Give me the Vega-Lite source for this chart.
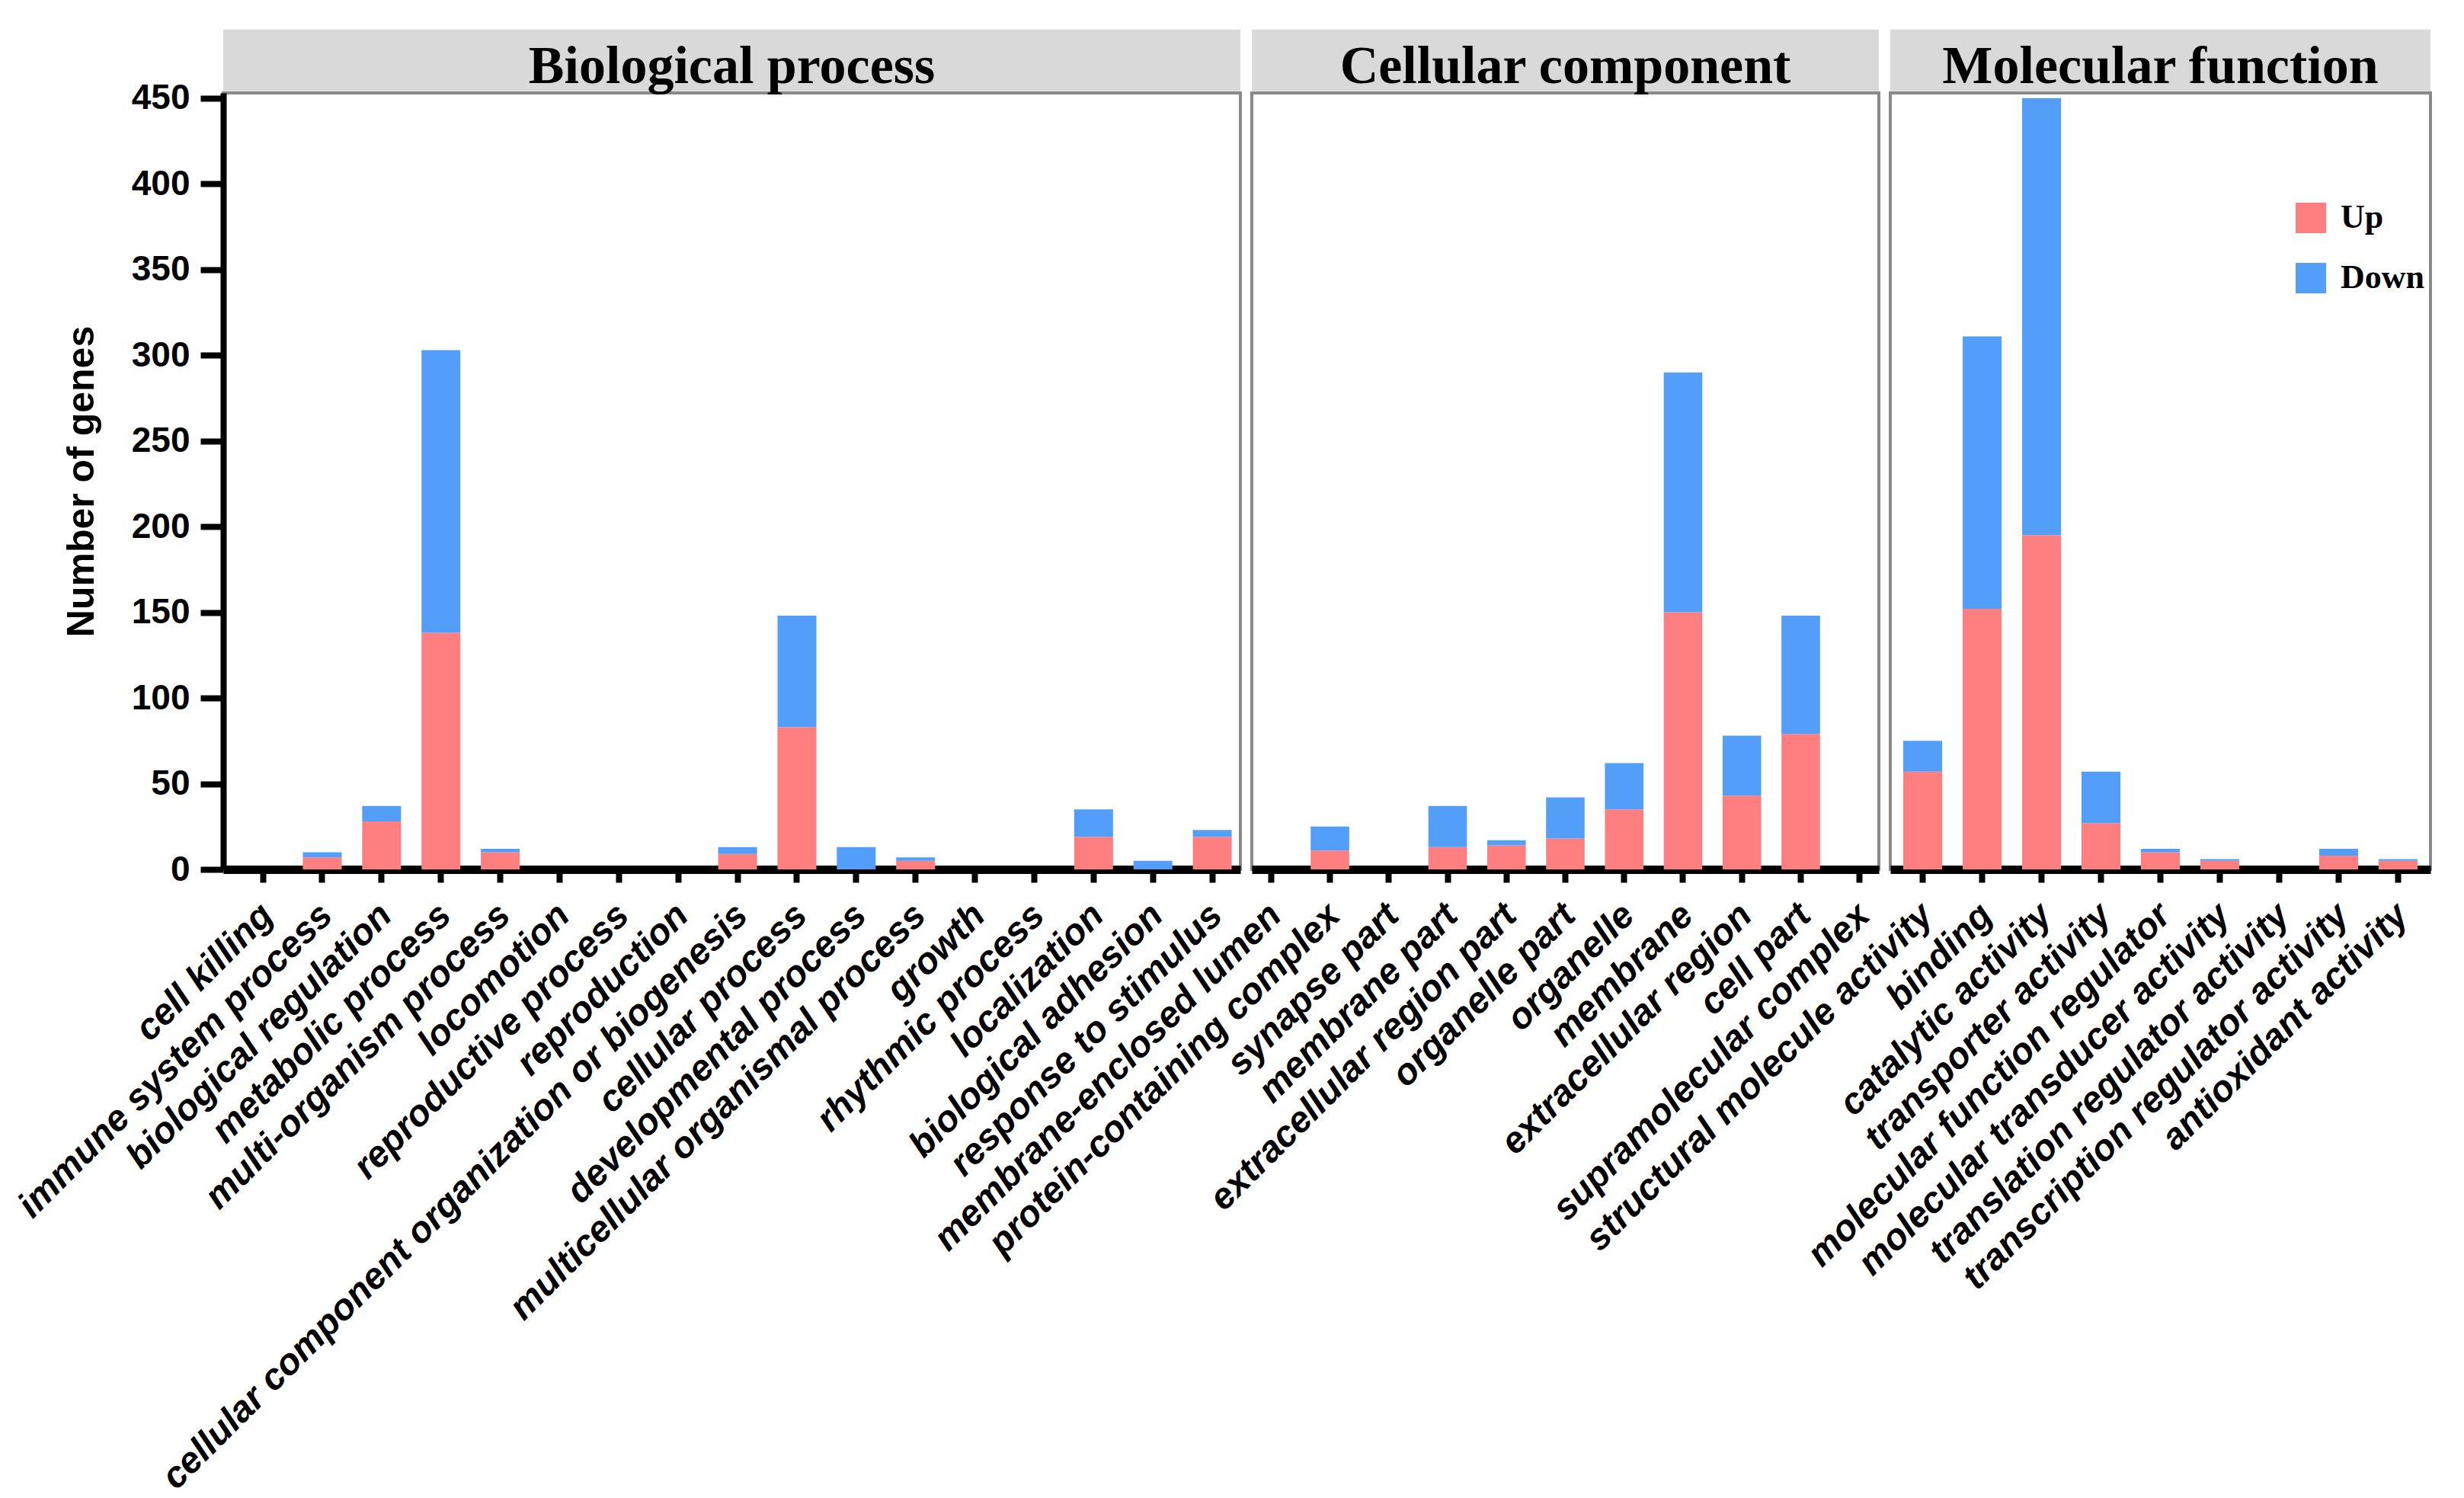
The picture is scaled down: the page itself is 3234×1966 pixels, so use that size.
{
  "$schema": "https://vega.github.io/schema/vega-lite/v6.json",
  "autosize": {"type": "pad"},
  "padding": {"left": 13, "top": 36, "right": 5, "bottom": 5},
  "background": "white",
  "datasets": {
    "go": [
      {"ontology": "Biological process", "term": "cell killing", "direction": "Up", "count": 0},
      {"ontology": "Biological process", "term": "cell killing", "direction": "Down", "count": 0},
      {"ontology": "Biological process", "term": "immune system process", "direction": "Up", "count": 7},
      {"ontology": "Biological process", "term": "immune system process", "direction": "Down", "count": 3},
      {"ontology": "Biological process", "term": "biological regulation", "direction": "Up", "count": 28},
      {"ontology": "Biological process", "term": "biological regulation", "direction": "Down", "count": 9},
      {"ontology": "Biological process", "term": "metabolic process", "direction": "Up", "count": 138},
      {"ontology": "Biological process", "term": "metabolic process", "direction": "Down", "count": 165},
      {"ontology": "Biological process", "term": "multi-organism process", "direction": "Up", "count": 10},
      {"ontology": "Biological process", "term": "multi-organism process", "direction": "Down", "count": 2},
      {"ontology": "Biological process", "term": "locomotion", "direction": "Up", "count": 0},
      {"ontology": "Biological process", "term": "locomotion", "direction": "Down", "count": 0},
      {"ontology": "Biological process", "term": "reproductive process", "direction": "Up", "count": 0},
      {"ontology": "Biological process", "term": "reproductive process", "direction": "Down", "count": 0},
      {"ontology": "Biological process", "term": "reproduction", "direction": "Up", "count": 0},
      {"ontology": "Biological process", "term": "reproduction", "direction": "Down", "count": 0},
      {"ontology": "Biological process", "term": "cellular component organization or biogenesis", "direction": "Up", "count": 9},
      {"ontology": "Biological process", "term": "cellular component organization or biogenesis", "direction": "Down", "count": 4},
      {"ontology": "Biological process", "term": "cellular process", "direction": "Up", "count": 83},
      {"ontology": "Biological process", "term": "cellular process", "direction": "Down", "count": 65},
      {"ontology": "Biological process", "term": "developmental process", "direction": "Up", "count": 0},
      {"ontology": "Biological process", "term": "developmental process", "direction": "Down", "count": 13},
      {"ontology": "Biological process", "term": "multicellular organismal process", "direction": "Up", "count": 5},
      {"ontology": "Biological process", "term": "multicellular organismal process", "direction": "Down", "count": 2},
      {"ontology": "Biological process", "term": "growth", "direction": "Up", "count": 0},
      {"ontology": "Biological process", "term": "growth", "direction": "Down", "count": 0},
      {"ontology": "Biological process", "term": "rhythmic process", "direction": "Up", "count": 0},
      {"ontology": "Biological process", "term": "rhythmic process", "direction": "Down", "count": 0},
      {"ontology": "Biological process", "term": "localization", "direction": "Up", "count": 19},
      {"ontology": "Biological process", "term": "localization", "direction": "Down", "count": 16},
      {"ontology": "Biological process", "term": "biological adhesion", "direction": "Up", "count": 0},
      {"ontology": "Biological process", "term": "biological adhesion", "direction": "Down", "count": 5},
      {"ontology": "Biological process", "term": "response to stimulus", "direction": "Up", "count": 19},
      {"ontology": "Biological process", "term": "response to stimulus", "direction": "Down", "count": 4},
      {"ontology": "Cellular component", "term": "membrane-enclosed lumen", "direction": "Up", "count": 0},
      {"ontology": "Cellular component", "term": "membrane-enclosed lumen", "direction": "Down", "count": 0},
      {"ontology": "Cellular component", "term": "protein-containing complex", "direction": "Up", "count": 11},
      {"ontology": "Cellular component", "term": "protein-containing complex", "direction": "Down", "count": 14},
      {"ontology": "Cellular component", "term": "synapse part", "direction": "Up", "count": 0},
      {"ontology": "Cellular component", "term": "synapse part", "direction": "Down", "count": 0},
      {"ontology": "Cellular component", "term": "membrane part", "direction": "Up", "count": 13},
      {"ontology": "Cellular component", "term": "membrane part", "direction": "Down", "count": 24},
      {"ontology": "Cellular component", "term": "extracellular region part", "direction": "Up", "count": 14},
      {"ontology": "Cellular component", "term": "extracellular region part", "direction": "Down", "count": 3},
      {"ontology": "Cellular component", "term": "organelle part", "direction": "Up", "count": 18},
      {"ontology": "Cellular component", "term": "organelle part", "direction": "Down", "count": 24},
      {"ontology": "Cellular component", "term": "organelle", "direction": "Up", "count": 35},
      {"ontology": "Cellular component", "term": "organelle", "direction": "Down", "count": 27},
      {"ontology": "Cellular component", "term": "membrane", "direction": "Up", "count": 150},
      {"ontology": "Cellular component", "term": "membrane", "direction": "Down", "count": 140},
      {"ontology": "Cellular component", "term": "extracellular region", "direction": "Up", "count": 43},
      {"ontology": "Cellular component", "term": "extracellular region", "direction": "Down", "count": 35},
      {"ontology": "Cellular component", "term": "cell part", "direction": "Up", "count": 79},
      {"ontology": "Cellular component", "term": "cell part", "direction": "Down", "count": 69},
      {"ontology": "Cellular component", "term": "supramolecular complex", "direction": "Up", "count": 0},
      {"ontology": "Cellular component", "term": "supramolecular complex", "direction": "Down", "count": 0},
      {"ontology": "Molecular function", "term": "structural molecule activity", "direction": "Up", "count": 57},
      {"ontology": "Molecular function", "term": "structural molecule activity", "direction": "Down", "count": 18},
      {"ontology": "Molecular function", "term": "binding", "direction": "Up", "count": 152},
      {"ontology": "Molecular function", "term": "binding", "direction": "Down", "count": 159},
      {"ontology": "Molecular function", "term": "catalytic activity", "direction": "Up", "count": 195},
      {"ontology": "Molecular function", "term": "catalytic activity", "direction": "Down", "count": 255},
      {"ontology": "Molecular function", "term": "transporter activity", "direction": "Up", "count": 27},
      {"ontology": "Molecular function", "term": "transporter activity", "direction": "Down", "count": 30},
      {"ontology": "Molecular function", "term": "molecular function regulator", "direction": "Up", "count": 10},
      {"ontology": "Molecular function", "term": "molecular function regulator", "direction": "Down", "count": 2},
      {"ontology": "Molecular function", "term": "molecular transducer activity", "direction": "Up", "count": 5},
      {"ontology": "Molecular function", "term": "molecular transducer activity", "direction": "Down", "count": 1},
      {"ontology": "Molecular function", "term": "translation regulator activity", "direction": "Up", "count": 0},
      {"ontology": "Molecular function", "term": "translation regulator activity", "direction": "Down", "count": 0},
      {"ontology": "Molecular function", "term": "transcription regulator activity", "direction": "Up", "count": 8},
      {"ontology": "Molecular function", "term": "transcription regulator activity", "direction": "Down", "count": 4},
      {"ontology": "Molecular function", "term": "antioxidant activity", "direction": "Up", "count": 5},
      {"ontology": "Molecular function", "term": "antioxidant activity", "direction": "Down", "count": 1}
    ]
  },
  "data": {"name": "go"},
  "spacing": 15,
  "bounds": "flush",
  "align": "none",
  "resolve": {"legend": {"color": "independent"}},
  "config": {
    "view": {"stroke": "#8a8a8a", "strokeWidth": 4},
    "axis": {
      "grid": false,
      "domainColor": "#000000",
      "tickColor": "#000000",
      "labelColor": "#000000",
      "titleColor": "#000000",
      "labelFont": "Liberation Sans",
      "titleFont": "Liberation Sans"
    },
    "axisX": {
      "domainWidth": 11,
      "tickWidth": 8,
      "tickSize": 17,
      "labelAngle": -45,
      "labelFontSize": 48,
      "labelFontWeight": "bold",
      "labelFontStyle": "italic",
      "labelLimit": 3000,
      "labelOverlap": false,
      "labelPadding": 19,
      "labelOffset": -11,
      "title": null
    },
    "axisY": {
      "domainWidth": 8,
      "tickWidth": 8,
      "tickSize": 30,
      "labelFontSize": 46,
      "labelFontWeight": "bold",
      "labelPadding": 14,
      "titleFontSize": 50,
      "titleFontWeight": "bold",
      "titlePadding": 40
    },
    "text": {"color": "#000000"}
  },
  "hconcat": [
    {
      "width": 1335,
      "height": 1019,
      "transform": [{"filter": "datum.ontology === 'Biological process'"}],
      "layer": [
        {
          "mark": {"type": "bar"},
          "encoding": {
            "x": {
              "field": "term", "type": "nominal",
              "sort": ["cell killing", "immune system process", "biological regulation", "metabolic process", "multi-organism process", "locomotion", "reproductive process", "reproduction", "cellular component organization or biogenesis", "cellular process", "developmental process", "multicellular organismal process", "growth", "rhythmic process", "localization", "biological adhesion", "response to stimulus"],
              "scale": {"paddingInner": 0.345, "paddingOuter": 0.244, "align": 0.7},
              "axis": {"title": null}
            },
            "y": {
              "field": "count", "type": "quantitative", "stack": "zero",
              "scale": {"domain": [0, 453], "nice": false},
              "axis": {"values": [0, 50, 100, 150, 200, 250, 300, 350, 400, 450], "title": "Number of genes"}
            },
            "color": {
              "field": "direction", "type": "nominal",
              "scale": {"domain": ["Up", "Down"], "range": ["#FF7E80", "#539EF9"]},
              "legend": null
            },
            "order": {"field": "direction", "sort": "descending"}
          }
        },
        {
          "transform": [{"aggregate": [{"op": "count", "as": "n"}], "groupby": ["ontology"]}],
          "layer": [
            {
              "mark": {"type": "rect", "color": "#D9D9D9", "clip": false},
              "encoding": {"y": {"datum": 454, "type": "quantitative"}, "y2": {"datum": 490}}
            },
            {
              "mark": {"type": "text", "font": "Liberation Serif", "fontWeight": "bold", "fontSize": 70, "baseline": "alphabetic", "align": "center", "clip": false},
              "encoding": {"y": {"datum": 459, "type": "quantitative"}, "text": {"field": "ontology"}}
            }
          ]
        }
      ]
    },
    {
      "width": 823,
      "height": 1019,
      "transform": [{"filter": "datum.ontology === 'Cellular component'"}],
      "layer": [
        {
          "mark": {"type": "bar"},
          "encoding": {
            "x": {
              "field": "term", "type": "nominal",
              "sort": ["membrane-enclosed lumen", "protein-containing complex", "synapse part", "membrane part", "extracellular region part", "organelle part", "organelle", "membrane", "extracellular region", "cell part", "supramolecular complex"],
              "scale": {"paddingInner": 0.345, "paddingOuter": 0, "align": 0.5},
              "axis": {"title": null}
            },
            "y": {
              "field": "count", "type": "quantitative", "stack": "zero",
              "scale": {"domain": [0, 453], "nice": false},
              "axis": null
            },
            "color": {
              "field": "direction", "type": "nominal",
              "scale": {"domain": ["Up", "Down"], "range": ["#FF7E80", "#539EF9"]},
              "legend": null
            },
            "order": {"field": "direction", "sort": "descending"}
          }
        },
        {
          "transform": [{"aggregate": [{"op": "count", "as": "n"}], "groupby": ["ontology"]}],
          "layer": [
            {
              "mark": {"type": "rect", "color": "#D9D9D9", "clip": false},
              "encoding": {"y": {"datum": 454, "type": "quantitative"}, "y2": {"datum": 490}}
            },
            {
              "mark": {"type": "text", "font": "Liberation Serif", "fontWeight": "bold", "fontSize": 70, "baseline": "alphabetic", "align": "center", "clip": false},
              "encoding": {"y": {"datum": 459, "type": "quantitative"}, "text": {"field": "ontology"}}
            }
          ]
        }
      ]
    },
    {
      "width": 709,
      "height": 1019,
      "transform": [{"filter": "datum.ontology === 'Molecular function'"}],
      "layer": [
        {
          "mark": {"type": "bar"},
          "encoding": {
            "x": {
              "field": "term", "type": "nominal",
              "sort": ["structural molecule activity", "binding", "catalytic activity", "transporter activity", "molecular function regulator", "molecular transducer activity", "translation regulator activity", "transcription regulator activity", "antioxidant activity"],
              "scale": {"paddingInner": 0.345, "paddingOuter": 0.218, "align": 0.5},
              "axis": {"title": null}
            },
            "y": {
              "field": "count", "type": "quantitative", "stack": "zero",
              "scale": {"domain": [0, 453], "nice": false},
              "axis": null
            },
            "color": {
              "field": "direction", "type": "nominal",
              "scale": {"domain": ["Up", "Down"], "range": ["#FF7E80", "#539EF9"]},
              "legend": {
                "title": null,
                "orient": "none",
                "legendX": 530,
                "legendY": 142,
                "padding": 0,
                "symbolType": "square",
                "symbolSize": 1600,
                "symbolStrokeWidth": 0,
                "symbolOpacity": 1,
                "labelFont": "Liberation Serif",
                "labelFontWeight": "bold",
                "labelFontSize": 44,
                "labelColor": "#000000",
                "labelOffset": 17,
                "rowPadding": 35
              }
            },
            "order": {"field": "direction", "sort": "descending"}
          }
        },
        {
          "transform": [{"aggregate": [{"op": "count", "as": "n"}], "groupby": ["ontology"]}],
          "layer": [
            {
              "mark": {"type": "rect", "color": "#D9D9D9", "clip": false},
              "encoding": {"y": {"datum": 454, "type": "quantitative"}, "y2": {"datum": 490}}
            },
            {
              "mark": {"type": "text", "font": "Liberation Serif", "fontWeight": "bold", "fontSize": 70, "baseline": "alphabetic", "align": "center", "clip": false},
              "encoding": {"y": {"datum": 459, "type": "quantitative"}, "text": {"field": "ontology"}}
            }
          ]
        }
      ]
    }
  ]
}
